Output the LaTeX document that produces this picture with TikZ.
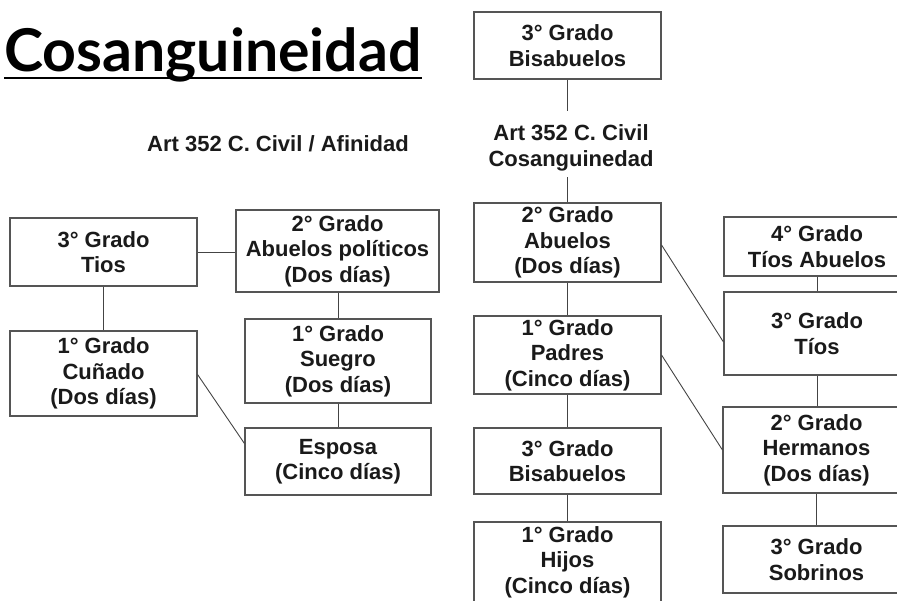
\documentclass[tikz,border=0pt]{standalone}
\usepackage{fontspec}
\setmainfont{Liberation Sans}
\newfontfamily\titlefont{Lato}
\definecolor{boxgray}{HTML}{555555}
\definecolor{linegray}{HTML}{444444}
\definecolor{textblack}{HTML}{1A1A1A}
\begin{document}
\begin{tikzpicture}[x=1pt,y=-1pt,
  box/.style={draw=boxgray, line width=1.1pt, fill=white, align=center,
    font=\bfseries\fontsize{22}{25.5}\selectfont, text=textblack, inner sep=0pt},
  lbl/.style={align=center, font=\bfseries\fontsize{22}{25.5}\selectfont, text=textblack, inner sep=0pt},
  conn/.style={draw=linegray, line width=0.9pt}]
\useasboundingbox (0,0) rectangle (897,601);
\clip (0,0) rectangle (897,601);
% title
\node[anchor=base west, inner sep=0pt, font=\titlefont\bfseries\fontsize{59}{59}\selectfont, text=black] (title) at (4,72) {Cosanguineidad};
\draw[line width=2pt] ([yshift=-6pt]title.base west) -- ([yshift=-6pt]title.base east);
\node[lbl, anchor=base] (art1) at (278,152) {Art 352 C. Civil / Afinidad};
% left (afinidad)
\node[box, minimum width=187pt, minimum height=68pt] (tios3) at (103.5,252) {3° Grado\\Tios};
\node[box, minimum width=203pt, minimum height=82pt] (abpol) at (337.5,251) {2° Grado\\Abuelos políticos\\(Dos días)};
\node[box, minimum width=187pt, minimum height=85pt] (cunado) at (103.5,373.5) {1° Grado\\Cuñado\\(Dos días)};
\node[box, minimum width=186pt, minimum height=84pt] (suegro) at (338,361) {1° Grado\\Suegro\\(Dos días)};
\node[box, minimum width=186pt, minimum height=67pt] (esposa) at (338,461.5) {Esposa\\(Cinco días)};
% center (cosanguinidad)
\node[box, minimum width=187pt, minimum height=67pt] (bis1) at (567.5,45.5) {3° Grado\\Bisabuelos};
\node[lbl] (art2) at (571,148) {Art 352 C. Civil\\Cosanguinedad};
\node[box, minimum width=187pt, minimum height=79pt] (abuelos) at (567.5,242.5) {2° Grado\\Abuelos\\(Dos días)};
\node[box, minimum width=187pt, minimum height=78pt] (padres) at (567.5,355) {1° Grado\\Padres\\(Cinco días)};
\node[box, minimum width=187pt, minimum height=66pt] (bis2) at (567.5,461) {3° Grado\\Bisabuelos};
\node[box, minimum width=187pt, minimum height=80pt] (hijos) at (567.5,562) {1° Grado\\Hijos\\(Cinco días)};
% right
\node[box, minimum width=186pt, minimum height=59pt] (tiosab) at (817,246.5) {4° Grado\\Tíos Abuelos};
\node[box, minimum width=186pt, minimum height=83pt] (tios) at (817,333.5) {3° Grado\\Tíos};
\node[box, minimum width=187pt, minimum height=86pt] (herm) at (816.5,450) {2° Grado\\Hermanos\\(Dos días)};
\node[box, minimum width=187pt, minimum height=67pt] (sobr) at (816.5,559.5) {3° Grado\\Sobrinos};
% connectors left
\draw[conn] (tios3.east) -- (tios3.east -| abpol.west);
\draw[conn] (tios3.south) -- (cunado.north);
\draw[conn] (abpol.south -| suegro.north) -- (suegro.north);
\draw[conn] (suegro.south) -- (esposa.north);
\draw[conn] ([yshift=-1pt]cunado.east) -- ([yshift=18pt]esposa.west);
% connectors center
\draw[conn, shorten >=14pt] (bis1.south) -- (bis1.south |- art2.north);
\draw[conn, shorten <=6pt] (art2.south -| abuelos.north) -- (abuelos.north);
\draw[conn] (abuelos.south) -- (padres.north);
\draw[conn] (padres.south) -- (bis2.north);
\draw[conn] (bis2.south) -- (hijos.north);
\draw[conn] ([yshift=-2.5pt]abuelos.east) -- ([yshift=-8.5pt]tios.west);
\draw[conn] (padres.east) -- (herm.west);
% connectors right
\draw[conn] (tiosab.south) -- (tios.north);
\draw[conn] (tios.south) -- (tios.south |- herm.north);
\draw[conn] (herm.south) -- (sobr.north);
\end{tikzpicture}
\end{document}
